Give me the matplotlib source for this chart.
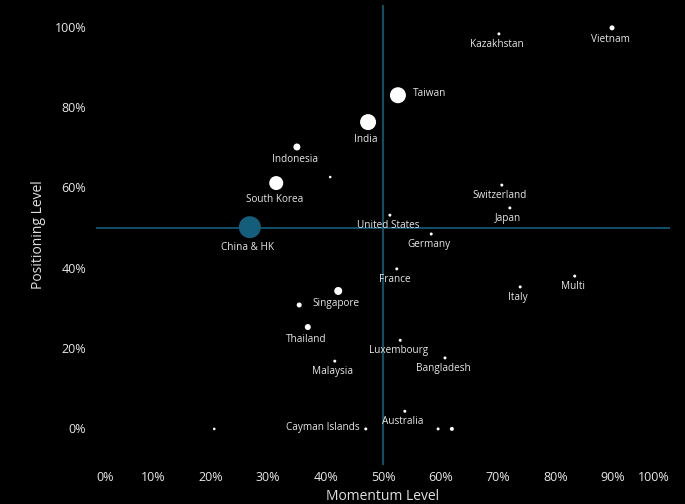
"""
Momentum vs positioning scatter by market
"""

import matplotlib
matplotlib.use("Agg")
import matplotlib.pyplot as plt

# data (percent)
countries = ['Vietnam', 'Kazakhstan', 'Taiwan', 'India', 'Indonesia', '',
             'South Korea', 'China & HK', 'United States', 'Germany',
             'Switzerland', 'Japan', 'France', 'Multi', 'Italy', 'Singapore',
             '', 'Thailand', 'Luxembourg', 'Bangladesh', 'Malaysia',
             'Australia', 'Cayman Islands', '', '', '']
momentum = [89.9, 70.2, 52.6, 47.4, 35.0, 40.8,
            31.4, 26.8, 51.2, 58.4,
            70.7, 72.1, 52.4, 83.4, 73.9, 42.2,
            35.4, 36.9, 53.0, 60.8, 41.6,
            53.8, 47.0, 59.6, 62.0, 20.6]
positioning = [99.8, 98.3, 83.0, 76.3, 70.1, 62.6,
               61.1, 50.1, 53.1, 48.4,
               60.6, 54.9, 39.7, 37.9, 35.2, 34.2,
               30.7, 25.2, 21.9, 17.5, 16.7,
               4.2, -0.2, -0.2, -0.2, -0.2]
# relative bubble weight (radius in px)
weight = [2.5, 1.5, 8, 8, 3.5, 1.3,
          7, 11, 1.5, 1.5,
          1.5, 1.5, 1.5, 1.5, 1.5, 4,
          2.5, 3, 1.5, 1.5, 1.5,
          1.5, 1.5, 1.5, 2, 1.3]
highlight = 'China & HK'

x_ticks = [0, 10, 20, 30, 40, 50, 60, 70, 80, 90, 100]
y_ticks = [0, 20, 40, 60, 80, 100]

BG = '#000000'
TEAL = '#155e7b'
LABEL = '#e6e6e6'

plt.rcParams['font.family'] = ['Open Sans', 'DejaVu Sans']

fig = plt.figure(figsize=(6.85, 5.04), dpi=100, facecolor=BG)
ax = fig.add_axes([96 / 685, 39 / 504, 574 / 685, 460 / 504])
ax.set_facecolor(BG)
ax.set_xlim(0, 100)
ax.set_ylim(-9.2, 105.5)

ax.axvline(50, color=TEAL, lw=1.2, zorder=1)
ax.axhline(50, color=TEAL, lw=1.2, zorder=1)

sizes = [(2 * r * 0.72) ** 2 for r in weight]
colors = [TEAL if c == highlight else 'white' for c in countries]
ax.scatter(momentum, positioning, s=sizes, c=colors, linewidths=0, zorder=3)

# label placement: below the dot, except a few
for name, x, y, r in zip(countries, momentum, positioning, weight):
    if not name:
        continue
    if name == 'Taiwan':
        off, ha, va = (r + 7, 2), 'left', 'center'
    elif name == 'Cayman Islands':
        off, ha, va = (-(r + 5), 1), 'right', 'center'
    else:
        off, ha, va = (-2, -(r + 9)), 'center', 'center'
    ax.annotate(name, (x, y), xytext=off, textcoords='offset pixels',
                ha=ha, va=va, color=LABEL, fontsize=7.2, zorder=4)

ax.set_xticks(x_ticks)
ax.set_xticklabels([f'{t}%' for t in x_ticks])
ax.set_yticks(y_ticks)
ax.set_yticklabels([f'{t}%' for t in y_ticks])
xlabels = ax.get_xticklabels()
xlabels[0].set_horizontalalignment('left')
xlabels[-1].set_horizontalalignment('right')

ax.tick_params(length=0, colors='#e8e8e8', labelsize=9)
ax.tick_params(axis='x', pad=4)
ax.tick_params(axis='y', pad=7)
for s in ax.spines.values():
    s.set_visible(False)

ax.set_xlabel('Momentum Level', color='#e0e0e0', fontsize=10, labelpad=4)
ax.set_ylabel('Positioning Level', color='#e0e0e0', fontsize=10, labelpad=6)

fig.savefig('out.png', dpi=100, facecolor=BG)
